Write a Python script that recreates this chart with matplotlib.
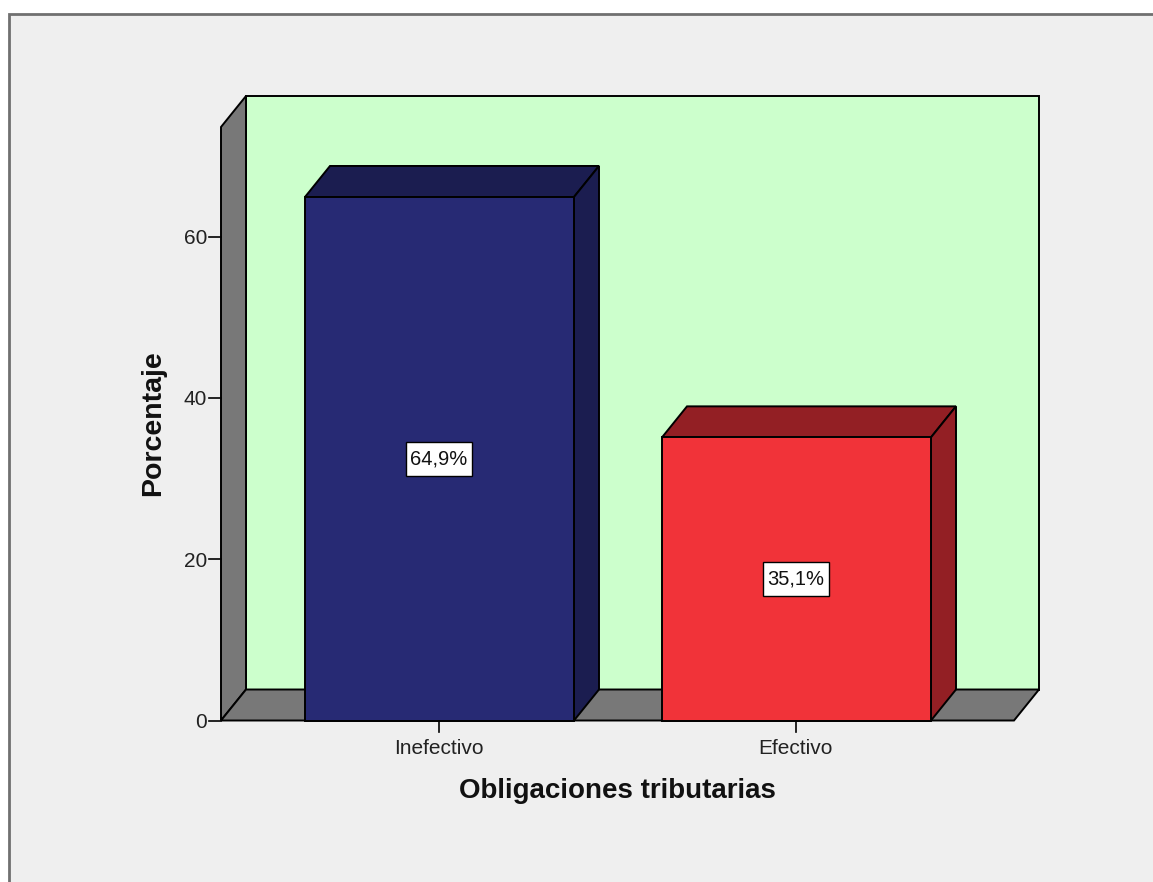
import matplotlib
matplotlib.use("Agg")
import matplotlib.pyplot as plt
from matplotlib.patches import Polygon, Rectangle

categories = ["Inefectivo", "Efectivo"]
values = [64.9, 35.1]
labels = ["64,9%", "35,1%"]
front_colors = ["#272a74", "#f13339"]
top_colors = ["#1b1d50", "#931f24"]
yticks = [0, 20, 40, 60]

W, H = 1153, 882
plt.rcParams["font.family"] = ["Liberation Sans", "DejaVu Sans"]
fig = plt.figure(figsize=(W / 100, H / 100), dpi=100, facecolor="white")

# whole figure in pixels, y downwards, bars are placed with a small helper
ax = fig.add_axes([0, 0, 1, 1])
ax.set_xlim(0, W)
ax.set_ylim(H, 0)
ax.axis("off")

y0 = 720.5
per_unit = (720.5 - 236.5) / 60
dx, dy = 25, -31


def ypix(v):
    return y0 - v * per_unit


def poly(points, color):
    ax.add_patch(Polygon(points, closed=True, facecolor=color, edgecolor="black", linewidth=1.4))


# window border and grey panel
ax.add_patch(Rectangle((9, 14), W, H, facecolor="#efefef", edgecolor="#707070", linewidth=2))

# back walls
left, right, top = 221, 1014, 127
ax.add_patch(Rectangle((left + dx, top + dy), right - left, y0 - top, facecolor="#ccffcc", edgecolor="black", linewidth=1.4))
poly([(left, top), (left + dx, top + dy), (left + dx, y0 + dy), (left, y0)], "#787878")
poly([(left, y0), (left + dx, y0 + dy), (right + dx, y0 + dy), (right, y0)], "#787878")

# bars
bar_left = [305, 662]
bar_w = 269
box_w, box_h = 66, 34
for i in range(len(values)):
    x1 = bar_left[i]
    x2 = x1 + bar_w
    xc = (x1 + x2) / 2 - 1
    yt = ypix(values[i])
    ym = ypix(values[i] / 2)
    poly([(x1, yt), (x1 + dx, yt + dy), (x2 + dx, yt + dy), (x2, yt)], top_colors[i])
    poly([(x2, yt), (x2 + dx, yt + dy), (x2 + dx, y0 + dy), (x2, y0)], top_colors[i])
    ax.add_patch(Rectangle((x1, yt), bar_w, y0 - yt, facecolor=front_colors[i], edgecolor="black", linewidth=1.4))
    ax.add_patch(Rectangle((xc - box_w / 2, ym - box_h / 2), box_w, box_h, facecolor="white", edgecolor="black", linewidth=1))
    ax.text(xc, ym + 0.5, labels[i], ha="center", va="center", fontsize=14.5, color="#111111")
    ax.plot([xc, xc], [y0, y0 + 11], color="black", lw=1.2)
    ax.text(xc, 749, categories[i], ha="center", va="center", fontsize=15, color="#222222")

# y axis ticks
for t in yticks:
    ax.plot([left - 12, left], [ypix(t)] * 2, color="black", lw=1.2)
    ax.text(left - 14, ypix(t) + 2, str(t), ha="right", va="center", fontsize=15, color="#222222")

ax.text(153, 423, "Porcentaje", rotation=90, ha="center", va="center", fontsize=20.5, fontweight="bold", color="#111111")
ax.text(617, 791, "Obligaciones tributarias", ha="center", va="center", fontsize=20, fontweight="bold", color="#111111")

fig.savefig("out.png", dpi=100, facecolor=fig.get_facecolor())
